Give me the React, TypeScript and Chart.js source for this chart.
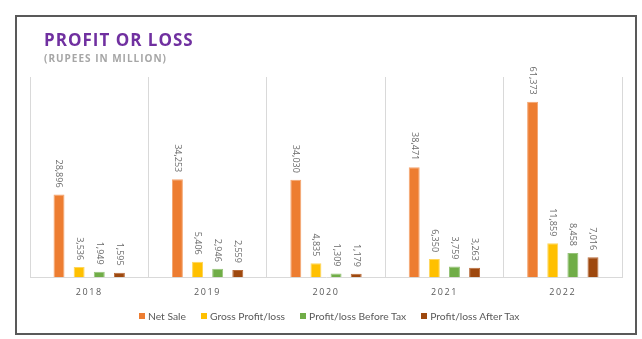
import React, { useEffect, useRef } from "react";
import { Chart, registerables } from "chart.js";

Chart.register(...registerables);

const years = ["2018", "2019", "2020", "2021", "2022"];
const netSale = [28896, 34253, 34030, 38471, 61373];
const grossProfit = [3536, 5406, 4835, 6350, 11859];
const profitBeforeTax = [1949, 2946, 1309, 3759, 8458];
const profitAfterTax = [1595, 2559, 1179, 3263, 7016];
const seriesNames = ["Net Sale", "Gross Profit/loss", "Profit/loss Before Tax", "Profit/loss After Tax"];
const seriesColors = ["#ED7D31", "#FFC000", "#70AD47", "#9E480E"];
const seriesBorders = ["#F4A46E", "#FFD659", "#97C47A", "#B86B3A"];
const seriesValues = [netSale, grossProfit, profitBeforeTax, profitAfterTax];
const yMax = 70000;

const spacingPlugin = {
  id: "spacing",
  beforeDraw(chart: any) {
    chart.ctx.letterSpacing = "1.6px";
  },
};

const labelPlugin = {
  id: "barLabels",
  afterDatasetsDraw(chart: any) {
    const ctx = chart.ctx;
    ctx.save();
    ctx.letterSpacing = "0px";
    ctx.font = "9px 'Open Sans'";
    ctx.fillStyle = "#6b6b6b";
    ctx.textAlign = "right";
    ctx.textBaseline = "middle";
    chart.data.datasets.forEach((ds: any, di: number) => {
      const meta = chart.getDatasetMeta(di);
      meta.data.forEach((bar: any, i: number) => {
        const v = ds.data[i] as number;
        ctx.save();
        ctx.translate(bar.x, bar.y - 7);
        ctx.rotate(Math.PI / 2);
        ctx.fillText(v.toLocaleString("en-US"), 0, 0);
        ctx.restore();
      });
    });
    ctx.restore();
  },
};

export default function App() {
  const canvasRef = useRef<HTMLCanvasElement | null>(null);

  useEffect(() => {
    if (!canvasRef.current) return;
    const chart = new Chart(canvasRef.current, {
      type: "bar",
      data: {
        labels: years,
        datasets: seriesNames.map((name, i) => ({
          label: name,
          data: seriesValues[i],
          backgroundColor: seriesColors[i],
          borderColor: seriesBorders[i],
          borderWidth: 1,
          categoryPercentage: 0.68,
          barPercentage: 0.545,
        })),
      },
      options: {
        responsive: false,
        devicePixelRatio: 1,
        animation: false,
        layout: { padding: { left: 30, right: 20, top: 77, bottom: 31 } },
        plugins: {
          legend: { display: false },
          tooltip: { enabled: false },
          title: { display: false },
        },
        scales: {
          x: {
            grid: { color: "#D9D9D9", offset: true, drawTicks: false, lineWidth: 1 },
            border: { color: "#D9D9D9", width: 1 },
            ticks: {
              color: "#595959",
              font: { family: "'Open Sans'", size: 9 },
              padding: 10,
            },
          },
          y: {
            display: false,
            min: 0,
            max: yMax,
          },
        },
      },
      plugins: [spacingPlugin, labelPlugin],
    });
    return () => chart.destroy();
  }, []);

  return (
    <div style={{ position: "fixed", left: 0, top: 0, width: 642, height: 339, background: "#fff", overflow: "hidden" }}>
      <div
        style={{
          position: "absolute",
          left: 15,
          top: 15,
          width: 622,
          height: 320,
          border: "2px solid #595959",
          boxSizing: "border-box",
        }}
      />
      <canvas ref={canvasRef} width={642} height={339} style={{ position: "absolute", left: 0, top: 0, width: 642, height: 339 }} />
      <div
        style={{
          position: "absolute",
          left: 44,
          top: 31,
          fontFamily: "'Open Sans'",
          fontWeight: 700,
          fontSize: 17,
          lineHeight: "17px",
          letterSpacing: "1px",
          color: "#7030A0",
          whiteSpace: "nowrap",
        }}
      >
        PROFIT OR LOSS
      </div>
      <div
        style={{
          position: "absolute",
          left: 44,
          top: 53,
          fontFamily: "'Open Sans'",
          fontWeight: 700,
          fontSize: 10,
          lineHeight: "10px",
          letterSpacing: "1px",
          color: "#A6A6A6",
          whiteSpace: "nowrap",
        }}
      >
        (RUPEES IN MILLION)
      </div>
      <div
        style={{
          position: "absolute",
          left: 139,
          top: 309,
          height: 14,
          display: "flex",
          alignItems: "center",
          gap: 15,
          fontFamily: "Lato",
          fontSize: 10.3,
          color: "#595959",
          whiteSpace: "nowrap",
        }}
      >
        {seriesNames.map((name, i) => (
          <div key={name} style={{ display: "flex", alignItems: "center" }}>
            <span style={{ display: "inline-block", width: 6, height: 6, background: seriesColors[i], marginRight: 3 }} />
            <span>{name}</span>
          </div>
        ))}
      </div>
    </div>
  );
}
